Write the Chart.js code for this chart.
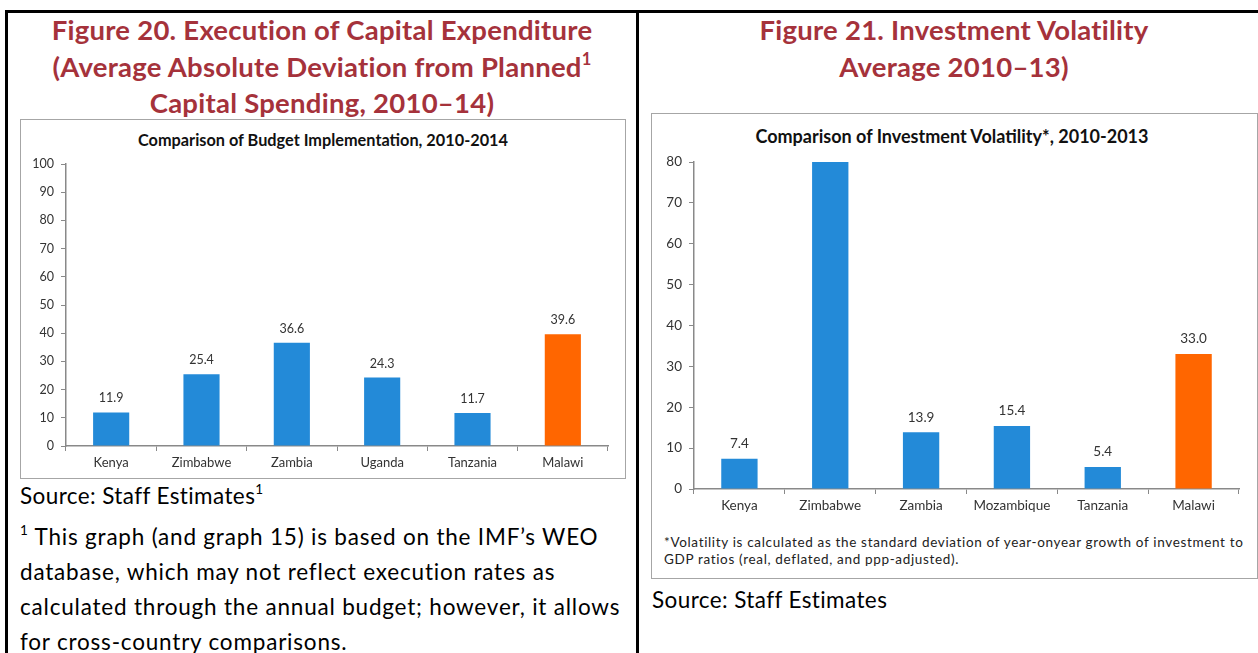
<!DOCTYPE html>
<html>
<head>
<meta charset="utf-8">
<script src="https://cdn.jsdelivr.net/npm/chart.js@4.4.1/dist/chart.umd.min.js"></script>
<style>
  html, body { margin:0; padding:0; }
  body { width:1258px; height:653px; position:relative; overflow:hidden; background:#fff; font-family:Lato, "Open Sans", sans-serif; color:#000; }
  .rule { position:absolute; background:#000; }
  .ftitle { position:absolute; text-align:center; color:#a5323b; font-weight:bold; font-size:27.5px; letter-spacing:0.25px; line-height:36.5px; }
  .ctitle { position:absolute; text-align:center; color:#111; font-weight:bold; white-space:nowrap; }
  .box { position:absolute; border:1.5px solid #a6a6a6; box-sizing:border-box; }
  .cv { position:absolute; }
  .txt { position:absolute; white-space:nowrap; }
  sup { font-size:0.6em; line-height:0; position:relative; top:-0.1em; }
</style>
</head>
<body>
<div class="rule" style="left:5px; top:10px; width:1253px; height:2.5px;"></div>
<div class="rule" style="left:5px; top:10px; width:2.5px; height:643px;"></div>
<div class="rule" style="left:636px; top:10px; width:2.5px; height:643px;"></div>

<div class="ftitle" style="left:8px; width:628px; top:12px;">Figure 20. Execution of Capital Expenditure<br>(Average Absolute Deviation from Planned<sup>1</sup><br>Capital Spending, 2010–14)</div>
<div class="ftitle" style="left:639px; width:630px; top:12px;">Figure 21. Investment Volatility<br>Average 2010–13)</div>

<div class="box" style="left:20px; top:119px; width:606px; height:360px;"></div>
<div class="box" style="left:651px; top:113px; width:607px; height:466px;"></div>

<div class="ctitle" style="left:22px; width:602px; top:130px; font-size:16.3px; line-height:20px;">Comparison of Budget Implementation, 2010-2014</div>
<div class="ctitle" style="left:651px; width:602px; top:125px; font-size:18px; line-height:22px;">Comparison of Investment Volatility*, 2010-2013</div>

<div class="cv" style="left:22px; top:121px; width:602px; height:356px;"><canvas id="c1"></canvas></div>
<div class="cv" style="left:653px; top:115px; width:602px; height:410px;"><canvas id="c2"></canvas></div>

<div class="txt" style="left:20px; top:482px; font-size:22.5px; letter-spacing:0.4px; line-height:28px;">Source: Staff Estimates<sup>1</sup></div>
<div class="txt" style="left:20px; top:519px; font-size:22.5px; letter-spacing:0.8px; line-height:35px;"><sup>1</sup> This graph (and graph 15) is based on the IMF’s WEO<br>database, which may not reflect execution rates as<br>calculated through the annual budget; however, it allows<br>for cross-country comparisons.</div>

<div class="txt" style="left:664px; top:534px; font-size:13.5px; letter-spacing:0.66px; line-height:16.5px; color:#222;">*Volatility is calculated as the standard deviation of year-onyear growth of investment to<br>GDP ratios (real, deflated, and ppp-adjusted).</div>
<div class="txt" style="left:652px; top:586px; font-size:22.5px; letter-spacing:0.4px; line-height:28px;">Source: Staff Estimates</div>

<script>
// ---- data ----
const budgetCountries = ["Kenya", "Zimbabwe", "Zambia", "Uganda", "Tanzania", "Malawi"];
const budgetDeviation = [11.9, 25.4, 36.6, 24.3, 11.7, 39.6];
const budgetTicks = [0, 10, 20, 30, 40, 50, 60, 70, 80, 90, 100];

const volatilityCountries = ["Kenya", "Zimbabwe", "Zambia", "Mozambique", "Tanzania", "Malawi"];
const volatilityValues = [7.4, 80, 13.9, 15.4, 5.4, 33.0];
const volatilityTicks = [0, 10, 20, 30, 40, 50, 60, 70, 80];

const highlightCountry = "Malawi";

// ---- styles ----
const BLUE = "#238ad8";
const ORANGE = "#ff6600";
const AXIS = "#898989";
const TEXT = "#333333";

const valueLabels = {
  id: "valueLabels",
  afterDatasetsDraw(chart, args, o) {
    const ctx = chart.ctx;
    const ds = chart.data.datasets[0];
    const meta = chart.getDatasetMeta(0);
    const max = chart.scales.y.max;
    ctx.save();
    ctx.font = o.font;
    ctx.fillStyle = o.color;
    ctx.textAlign = "center";
    ctx.textBaseline = "middle";
    meta.data.forEach((bar, i) => {
      const v = ds.data[i];
      if (v >= max) return; // clipped bar, no label in the original
      ctx.fillText(v.toFixed(1), bar.x, bar.y - o.offset);
    });
    ctx.restore();
  }
};

function makeChart(id, cats, vals, ticks, s) {
  const colors = cats.map(c => c === highlightCountry ? ORANGE : BLUE);
  return new Chart(document.getElementById(id), {
    type: "bar",
    data: {
      labels: cats,
      datasets: [{ data: vals, backgroundColor: colors, borderWidth: 0, barPercentage: 0.8, categoryPercentage: 0.5 }]
    },
    options: {
      responsive: true,
      maintainAspectRatio: false,
      animation: false,
      events: [],
      layout: { padding: { left: 0, right: s.padRight, top: s.padTop, bottom: 0 } },
      plugins: {
        legend: { display: false },
        tooltip: { enabled: false },
        title: { display: false },
        valueLabels: { font: s.valueFont, color: TEXT, offset: s.valueOffset }
      },
      scales: {
        x: {
          grid: { display: true, drawOnChartArea: false, drawTicks: true, tickLength: 5, color: AXIS, offset: true },
          border: { display: true, color: AXIS, width: 1.5 },
          ticks: { color: TEXT, font: { family: "Lato", size: s.tickSize }, padding: 4, maxRotation: 0, autoSkip: false },
          afterFit(scale) { scale.height = s.xHeight; }
        },
        y: {
          min: ticks[0], max: ticks[ticks.length - 1],
          afterBuildTicks(scale) { scale.ticks = ticks.map(v => ({ value: v })); },
          grid: { display: true, drawOnChartArea: false, drawTicks: true, tickLength: 5, color: AXIS },
          border: { display: true, color: AXIS, width: 1.5 },
          ticks: { color: TEXT, font: { family: "Lato", size: s.yTickSize }, padding: 7 },
          afterFit(scale) { scale.width = s.yWidth; }
        }
      }
    },
    plugins: [valueLabels]
  });
}

makeChart("c1", budgetCountries, budgetDeviation, budgetTicks, {
  padTop: 43, padRight: 16, yWidth: 44, xHeight: 31,
  tickSize: 13, yTickSize: 12.5, valueFont: "12.5px Lato", valueOffset: 14
});

makeChart("c2", volatilityCountries, volatilityValues, volatilityTicks, {
  padTop: 47, padRight: 16, yWidth: 41, xHeight: 36,
  tickSize: 13.5, yTickSize: 13.5, valueFont: "13.5px Lato", valueOffset: 15
});
</script>
</body>
</html>
